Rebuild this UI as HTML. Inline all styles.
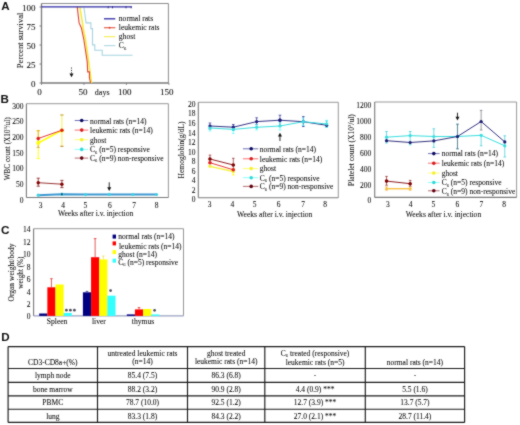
<!DOCTYPE html><html><head><meta charset="utf-8"><style>html,body{margin:0;padding:0;background:#fff;width:520px;height:425px;overflow:hidden}svg{display:block}</style></head><body>
<svg width="520" height="425" viewBox="0 0 520 425">
<defs><filter id="soft" x="0" y="0" width="520" height="425" filterUnits="userSpaceOnUse" color-interpolation-filters="sRGB"><feConvolveMatrix order="3" kernelMatrix="1 2 1 2 16 2 1 2 1" divisor="28" edgeMode="duplicate"/></filter></defs>
<g filter="url(#soft)">
<rect width="520" height="425" fill="#fff"/>
<text x="1.3" y="9.7" font-size="11.6" text-anchor="start" fill="#111" font-family="Liberation Sans" font-weight="bold"  >A</text>
<line x1="41.5" y1="3.5" x2="168.4" y2="3.5" stroke="#8c8c8c" stroke-width="1" />
<line x1="168.4" y1="3.5" x2="168.4" y2="83" stroke="#8c8c8c" stroke-width="1" />
<line x1="41.5" y1="3.5" x2="41.5" y2="83" stroke="#7a7a7a" stroke-width="1.3" />
<line x1="41.5" y1="83" x2="168.4" y2="83" stroke="#7a7a7a" stroke-width="1.5" />
<line x1="39.5" y1="7" x2="41.5" y2="7" stroke="#7a7a7a" stroke-width="1" />
<text x="35.6" y="11.2" font-size="9" text-anchor="end" fill="#0a0a0a" font-family="Liberation Serif" font-weight="normal" stroke="#0a0a0a" stroke-width="0.06" >100</text>
<line x1="39.5" y1="26" x2="41.5" y2="26" stroke="#7a7a7a" stroke-width="1" />
<text x="35.6" y="30.2" font-size="9" text-anchor="end" fill="#0a0a0a" font-family="Liberation Serif" font-weight="normal" stroke="#0a0a0a" stroke-width="0.06" >75</text>
<line x1="39.5" y1="45" x2="41.5" y2="45" stroke="#7a7a7a" stroke-width="1" />
<text x="35.6" y="49.2" font-size="9" text-anchor="end" fill="#0a0a0a" font-family="Liberation Serif" font-weight="normal" stroke="#0a0a0a" stroke-width="0.06" >50</text>
<line x1="39.5" y1="64" x2="41.5" y2="64" stroke="#7a7a7a" stroke-width="1" />
<text x="35.6" y="68.2" font-size="9" text-anchor="end" fill="#0a0a0a" font-family="Liberation Serif" font-weight="normal" stroke="#0a0a0a" stroke-width="0.06" >25</text>
<line x1="39.5" y1="83" x2="41.5" y2="83" stroke="#7a7a7a" stroke-width="1" />
<text x="35.6" y="87.2" font-size="9" text-anchor="end" fill="#0a0a0a" font-family="Liberation Serif" font-weight="normal" stroke="#0a0a0a" stroke-width="0.06" >0</text>
<line x1="41.5" y1="83" x2="41.5" y2="84.8" stroke="#7a7a7a" stroke-width="1" />
<line x1="83.94999999999999" y1="83" x2="83.94999999999999" y2="84.8" stroke="#7a7a7a" stroke-width="1" />
<line x1="126.39999999999999" y1="83" x2="126.39999999999999" y2="84.8" stroke="#7a7a7a" stroke-width="1" />
<line x1="168.85" y1="83" x2="168.85" y2="84.8" stroke="#7a7a7a" stroke-width="1" />
<text x="39.6" y="95.1" font-size="9" text-anchor="middle" fill="#0a0a0a" font-family="Liberation Serif" font-weight="normal" stroke="#0a0a0a" stroke-width="0.06" >0</text>
<text x="82.9" y="95.1" font-size="9" text-anchor="middle" fill="#0a0a0a" font-family="Liberation Serif" font-weight="normal" stroke="#0a0a0a" stroke-width="0.06" >50</text>
<text x="124.8" y="95.1" font-size="9" text-anchor="middle" fill="#0a0a0a" font-family="Liberation Serif" font-weight="normal" stroke="#0a0a0a" stroke-width="0.06" >100</text>
<text x="166.8" y="95.1" font-size="9" text-anchor="middle" fill="#0a0a0a" font-family="Liberation Serif" font-weight="normal" stroke="#0a0a0a" stroke-width="0.06" >150</text>
<text x="102.2" y="95.1" font-size="8.0" text-anchor="middle" fill="#0a0a0a" font-family="Liberation Serif" font-weight="normal" stroke="#0a0a0a" stroke-width="0.06" >days</text>
<text x="0" y="0" font-size="8.6" text-anchor="middle" fill="#0a0a0a" font-family="Liberation Serif" font-weight="normal" stroke="#0a0a0a" stroke-width="0.06" transform="translate(22.6,40.4) rotate(-90)">Percent survival</text>
<polyline points="83.8,7.5 84.3,10 86.1,22.9 90.9,22.9 90.9,28.6 92.5,28.6 92.5,44.9 94.8,44.9 94.8,50.3 102.2,50.3 102.2,55.3 132.6,55.3" fill="none" stroke="#a6d4e0" stroke-width="1.1" />
<polyline points="79.8,7 82.0,20 83.5,30 85.6,40 88.5,60 90.5,75 91.6,83" fill="none" stroke="#f6ea3a" stroke-width="1.5" />
<polyline points="77.2,6.8 79.1,22.9 81.4,28 83.9,40 87.2,61.6 87.7,71.9 89.4,71.9 89.4,77.8 90.6,83" fill="none" stroke="#e0402a" stroke-width="1.1" />
<line x1="41.5" y1="6.8" x2="131.7" y2="6.8" stroke="#2c28a4" stroke-width="1.3" />
<line x1="108.2" y1="6.2" x2="108.2" y2="8.3" stroke="#2a2080" stroke-width="0.9" />
<line x1="112.5" y1="6.2" x2="112.5" y2="8.3" stroke="#2a2080" stroke-width="0.9" />
<line x1="126" y1="6.2" x2="126" y2="8.3" stroke="#2a2080" stroke-width="0.9" />
<line x1="131.2" y1="6.2" x2="131.2" y2="8.3" stroke="#2a2080" stroke-width="0.9" />
<line x1="71.5" y1="67.5" x2="71.5" y2="74" stroke="#222" stroke-width="0.9" stroke-dasharray="1.2,1.2"/>
<path d="M69.5,73.5 L73.5,73.5 L71.5,77.2 Z" fill="#111"/>
<line x1="104" y1="18.8" x2="115.3" y2="18.8" stroke="#2c28a4" stroke-width="1.3" />
<text x="118.8" y="20.6" font-size="7.6" text-anchor="start" fill="#0a0a0a" font-family="Liberation Serif" font-weight="normal" stroke="#0a0a0a" stroke-width="0.06" >normal rats</text>
<line x1="104" y1="27.75" x2="115.3" y2="27.75" stroke="#e0402a" stroke-width="1" />
<circle cx="109.6" cy="27.75" r="0.9" fill="#e0402a"/>
<text x="118.8" y="29.75" font-size="7.6" text-anchor="start" fill="#0a0a0a" font-family="Liberation Serif" font-weight="normal" stroke="#0a0a0a" stroke-width="0.06" >leukemic rats</text>
<line x1="104" y1="36.7" x2="115.3" y2="36.7" stroke="#f6ea3a" stroke-width="1" />
<text x="118.8" y="38.900000000000006" font-size="7.6" text-anchor="start" fill="#0a0a0a" font-family="Liberation Serif" font-weight="normal" stroke="#0a0a0a" stroke-width="0.06" >ghost</text>
<line x1="104" y1="45.65" x2="115.3" y2="45.65" stroke="#a6d4e0" stroke-width="1" />
<text x="118.8" y="48.050000000000004" font-size="7.6" text-anchor="start" fill="#0a0a0a" font-family="Liberation Serif" font-weight="normal" stroke="#0a0a0a" stroke-width="0.06" >C<tspan font-size="4.6" dy="1.6">6</tspan></text>
<text x="0.6" y="102.5" font-size="11.6" text-anchor="start" fill="#111" font-family="Liberation Sans" font-weight="bold"  >B</text>
<line x1="26.4" y1="103.7" x2="168.4" y2="103.7" stroke="#8c8c8c" stroke-width="0.9" />
<line x1="168.4" y1="103.7" x2="168.4" y2="197.5" stroke="#8c8c8c" stroke-width="0.9" />
<line x1="26.4" y1="103.7" x2="26.4" y2="197.5" stroke="#7a7a7a" stroke-width="1.1" />
<line x1="26.4" y1="197.5" x2="168.4" y2="197.5" stroke="#7a7a7a" stroke-width="1.1" />
<text x="23.4" y="108.7" font-size="7.5" text-anchor="end" fill="#0a0a0a" font-family="Liberation Serif" font-weight="normal" stroke="#0a0a0a" stroke-width="0.06" >300</text>
<text x="23.4" y="124.33333333333333" font-size="7.5" text-anchor="end" fill="#0a0a0a" font-family="Liberation Serif" font-weight="normal" stroke="#0a0a0a" stroke-width="0.06" >250</text>
<text x="23.4" y="139.96666666666667" font-size="7.5" text-anchor="end" fill="#0a0a0a" font-family="Liberation Serif" font-weight="normal" stroke="#0a0a0a" stroke-width="0.06" >200</text>
<text x="23.4" y="155.6" font-size="7.5" text-anchor="end" fill="#0a0a0a" font-family="Liberation Serif" font-weight="normal" stroke="#0a0a0a" stroke-width="0.06" >150</text>
<text x="23.4" y="171.23333333333335" font-size="7.5" text-anchor="end" fill="#0a0a0a" font-family="Liberation Serif" font-weight="normal" stroke="#0a0a0a" stroke-width="0.06" >100</text>
<text x="23.4" y="186.86666666666667" font-size="7.5" text-anchor="end" fill="#0a0a0a" font-family="Liberation Serif" font-weight="normal" stroke="#0a0a0a" stroke-width="0.06" >50</text>
<text x="23.4" y="202.5" font-size="7.5" text-anchor="end" fill="#0a0a0a" font-family="Liberation Serif" font-weight="normal" stroke="#0a0a0a" stroke-width="0.06" >0</text>
<text x="40.5" y="208.4" font-size="7.5" text-anchor="middle" fill="#0a0a0a" font-family="Liberation Serif" font-weight="normal" stroke="#0a0a0a" stroke-width="0.06" >3</text>
<text x="63" y="208.4" font-size="7.5" text-anchor="middle" fill="#0a0a0a" font-family="Liberation Serif" font-weight="normal" stroke="#0a0a0a" stroke-width="0.06" >4</text>
<text x="85.3" y="208.4" font-size="7.5" text-anchor="middle" fill="#0a0a0a" font-family="Liberation Serif" font-weight="normal" stroke="#0a0a0a" stroke-width="0.06" >5</text>
<text x="109.8" y="208.4" font-size="7.5" text-anchor="middle" fill="#0a0a0a" font-family="Liberation Serif" font-weight="normal" stroke="#0a0a0a" stroke-width="0.06" >6</text>
<text x="134" y="208.4" font-size="7.5" text-anchor="middle" fill="#0a0a0a" font-family="Liberation Serif" font-weight="normal" stroke="#0a0a0a" stroke-width="0.06" >7</text>
<text x="156.6" y="208.4" font-size="7.5" text-anchor="middle" fill="#0a0a0a" font-family="Liberation Serif" font-weight="normal" stroke="#0a0a0a" stroke-width="0.06" >8</text>
<text x="95.6" y="216.2" font-size="7.6" text-anchor="middle" fill="#0a0a0a" font-family="Liberation Serif" font-weight="normal" stroke="#0a0a0a" stroke-width="0.06" >Weeks after i.v. injection</text>
<text x="0" y="0" font-size="7.2" text-anchor="middle" fill="#0a0a0a" font-family="Liberation Serif" font-weight="normal" stroke="#0a0a0a" stroke-width="0.06" transform="translate(9.6,148.8) rotate(-90)">WBC count (X10<tspan font-size="4.5" dy="-2.5">3</tspan><tspan dy="2.5">/ul)</tspan></text>
<line x1="38.233333333333334" y1="130.7" x2="38.233333333333334" y2="158.6" stroke="#ffff00" stroke-width="0.9" />
<line x1="36.63333333333333" y1="130.7" x2="39.833333333333336" y2="130.7" stroke="#ffff00" stroke-width="0.9" />
<line x1="36.63333333333333" y1="158.6" x2="39.833333333333336" y2="158.6" stroke="#ffff00" stroke-width="0.9" />
<line x1="61.9" y1="115" x2="61.9" y2="146.3" stroke="#f4ee40" stroke-width="0.9" />
<line x1="60.3" y1="115" x2="63.5" y2="115" stroke="#f4ee40" stroke-width="0.9" />
<line x1="60.3" y1="146.3" x2="63.5" y2="146.3" stroke="#f4ee40" stroke-width="0.9" />
<line x1="60.4" y1="115" x2="63.4" y2="115" stroke="#b08050" stroke-width="0.8" />
<line x1="60.4" y1="146.3" x2="63.4" y2="146.3" stroke="#b06040" stroke-width="0.8" />
<line x1="38.233333333333334" y1="130.7" x2="38.233333333333334" y2="147.4" stroke="#d08020" stroke-width="0.6" />
<line x1="36.63333333333333" y1="130.7" x2="39.833333333333336" y2="130.7" stroke="#d08020" stroke-width="0.6" />
<line x1="36.63333333333333" y1="147.4" x2="39.833333333333336" y2="147.4" stroke="#d08020" stroke-width="0.6" />
<polyline points="38.233333333333334,143 61.9,130.4" fill="none" stroke="#ffff00" stroke-width="1.6" />
<circle cx="38.233333333333334" cy="143" r="2.0" fill="#ffff00"/>
<circle cx="61.9" cy="130.4" r="2.0" fill="#ffff00"/>
<polyline points="38.233333333333334,138.5 61.9,130.2" fill="none" stroke="#e02020" stroke-width="0.9" />
<circle cx="38.233333333333334" cy="138.5" r="1.8" fill="#e02020"/>
<circle cx="61.9" cy="130.2" r="1.8" fill="#e02020"/>
<line x1="38.233333333333334" y1="178.2" x2="38.233333333333334" y2="186.2" stroke="#800000" stroke-width="0.7" />
<line x1="36.63333333333333" y1="178.2" x2="39.833333333333336" y2="178.2" stroke="#800000" stroke-width="0.7" />
<line x1="36.63333333333333" y1="186.2" x2="39.833333333333336" y2="186.2" stroke="#800000" stroke-width="0.7" />
<line x1="61.9" y1="180.4" x2="61.9" y2="187.6" stroke="#800000" stroke-width="0.7" />
<line x1="60.3" y1="180.4" x2="63.5" y2="180.4" stroke="#800000" stroke-width="0.7" />
<line x1="60.3" y1="187.6" x2="63.5" y2="187.6" stroke="#800000" stroke-width="0.7" />
<polyline points="38.233333333333334,182.7 61.9,184.2" fill="none" stroke="#800000" stroke-width="0.8" />
<circle cx="38.233333333333334" cy="182.7" r="1.7" fill="#800000"/>
<circle cx="61.9" cy="184.2" r="1.7" fill="#800000"/>
<polyline points="38.233333333333334,195.2 61.9,194.2 85.56666666666666,194.6 109.23333333333335,194.4 132.9,194.5 156.5666666666667,194.5" fill="none" stroke="#3a98d0" stroke-width="2.0" />
<circle cx="38.233333333333334" cy="195.2" r="1.6" fill="#3ecfe0"/>
<circle cx="61.9" cy="194.2" r="1.6" fill="#3ecfe0"/>
<circle cx="85.56666666666666" cy="194.6" r="1.6" fill="#3ecfe0"/>
<circle cx="109.23333333333335" cy="194.4" r="1.6" fill="#3ecfe0"/>
<circle cx="132.9" cy="194.5" r="1.6" fill="#3ecfe0"/>
<circle cx="156.5666666666667" cy="194.5" r="1.6" fill="#3ecfe0"/>
<circle cx="61.9" cy="194.2" r="1.0" fill="#103a70"/>
<line x1="109.23333333333335" y1="182.3" x2="109.23333333333335" y2="188" stroke="#111" stroke-width="0.9" />
<path d="M107.23333333333335,187.3 L111.23333333333335,187.3 L109.23333333333335,191 Z" fill="#111"/>
<line x1="74.7" y1="120.5" x2="88.2" y2="120.5" stroke="#4c4ca6" stroke-width="0.8" />
<circle cx="81.7" cy="120.5" r="1.8" fill="#0a0a60"/>
<text x="90.1" y="123.5" font-size="7.5" text-anchor="start" fill="#0a0a0a" font-family="Liberation Serif" font-weight="normal" stroke="#0a0a0a" stroke-width="0.06" >normal rats (n=14)</text>
<line x1="74.7" y1="130.1" x2="88.2" y2="130.1" stroke="#ff4c4c" stroke-width="0.8" />
<circle cx="81.7" cy="130.1" r="1.8" fill="#d81c1c"/>
<text x="90.1" y="133" font-size="7.5" text-anchor="start" fill="#0a0a0a" font-family="Liberation Serif" font-weight="normal" stroke="#0a0a0a" stroke-width="0.06" >leukemic rats (n=14)</text>
<line x1="74.7" y1="139.7" x2="88.2" y2="139.7" stroke="#ffff4c" stroke-width="0.8" />
<circle cx="81.7" cy="139.7" r="1.8" fill="#f4f030"/>
<text x="90.1" y="142.5" font-size="7.5" text-anchor="start" fill="#0a0a0a" font-family="Liberation Serif" font-weight="normal" stroke="#0a0a0a" stroke-width="0.06" >ghost</text>
<line x1="74.7" y1="149.4" x2="88.2" y2="149.4" stroke="#70ffff" stroke-width="0.8" />
<circle cx="81.7" cy="149.4" r="1.8" fill="#30d8d8"/>
<text x="90.1" y="152.4" font-size="7.5" text-anchor="start" fill="#0a0a0a" font-family="Liberation Serif" font-weight="normal" stroke="#0a0a0a" stroke-width="0.06" >C<tspan font-size="4.5" dy="1.5">6</tspan><tspan dy="-1.5"> (n=5) responsive</tspan></text>
<line x1="74.7" y1="158.1" x2="88.2" y2="158.1" stroke="#a64c4c" stroke-width="0.8" />
<circle cx="81.7" cy="158.1" r="1.8" fill="#600010"/>
<text x="90.1" y="160.9" font-size="7.5" text-anchor="start" fill="#0a0a0a" font-family="Liberation Serif" font-weight="normal" stroke="#0a0a0a" stroke-width="0.06" >C<tspan font-size="4.5" dy="1.5">6</tspan><tspan dy="-1.5"> (n=9) non-responsive</tspan></text>
<line x1="198.3" y1="102.3" x2="338.3" y2="102.3" stroke="#8c8c8c" stroke-width="0.9" />
<line x1="338.3" y1="102.3" x2="338.3" y2="197.7" stroke="#8c8c8c" stroke-width="0.9" />
<line x1="198.3" y1="102.3" x2="198.3" y2="197.7" stroke="#7a7a7a" stroke-width="1.1" />
<line x1="198.3" y1="197.7" x2="338.3" y2="197.7" stroke="#7a7a7a" stroke-width="1.1" />
<text x="195.4" y="202.29999999999998" font-size="7.5" text-anchor="end" fill="#0a0a0a" font-family="Liberation Serif" font-weight="normal" stroke="#0a0a0a" stroke-width="0.06" >0</text>
<text x="195.4" y="192.76" font-size="7.5" text-anchor="end" fill="#0a0a0a" font-family="Liberation Serif" font-weight="normal" stroke="#0a0a0a" stroke-width="0.06" >2</text>
<text x="195.4" y="183.22" font-size="7.5" text-anchor="end" fill="#0a0a0a" font-family="Liberation Serif" font-weight="normal" stroke="#0a0a0a" stroke-width="0.06" >4</text>
<text x="195.4" y="173.67999999999998" font-size="7.5" text-anchor="end" fill="#0a0a0a" font-family="Liberation Serif" font-weight="normal" stroke="#0a0a0a" stroke-width="0.06" >6</text>
<text x="195.4" y="164.14" font-size="7.5" text-anchor="end" fill="#0a0a0a" font-family="Liberation Serif" font-weight="normal" stroke="#0a0a0a" stroke-width="0.06" >8</text>
<text x="195.4" y="154.6" font-size="7.5" text-anchor="end" fill="#0a0a0a" font-family="Liberation Serif" font-weight="normal" stroke="#0a0a0a" stroke-width="0.06" >10</text>
<text x="195.4" y="145.05999999999997" font-size="7.5" text-anchor="end" fill="#0a0a0a" font-family="Liberation Serif" font-weight="normal" stroke="#0a0a0a" stroke-width="0.06" >12</text>
<text x="195.4" y="135.51999999999998" font-size="7.5" text-anchor="end" fill="#0a0a0a" font-family="Liberation Serif" font-weight="normal" stroke="#0a0a0a" stroke-width="0.06" >14</text>
<text x="195.4" y="125.97999999999999" font-size="7.5" text-anchor="end" fill="#0a0a0a" font-family="Liberation Serif" font-weight="normal" stroke="#0a0a0a" stroke-width="0.06" >16</text>
<text x="195.4" y="116.44" font-size="7.5" text-anchor="end" fill="#0a0a0a" font-family="Liberation Serif" font-weight="normal" stroke="#0a0a0a" stroke-width="0.06" >18</text>
<text x="195.4" y="106.89999999999999" font-size="7.5" text-anchor="end" fill="#0a0a0a" font-family="Liberation Serif" font-weight="normal" stroke="#0a0a0a" stroke-width="0.06" >20</text>
<text x="209.7" y="206.8" font-size="7.5" text-anchor="middle" fill="#0a0a0a" font-family="Liberation Serif" font-weight="normal" stroke="#0a0a0a" stroke-width="0.06" >3</text>
<text x="232.3" y="206.8" font-size="7.5" text-anchor="middle" fill="#0a0a0a" font-family="Liberation Serif" font-weight="normal" stroke="#0a0a0a" stroke-width="0.06" >4</text>
<text x="254.6" y="206.8" font-size="7.5" text-anchor="middle" fill="#0a0a0a" font-family="Liberation Serif" font-weight="normal" stroke="#0a0a0a" stroke-width="0.06" >5</text>
<text x="278.7" y="206.8" font-size="7.5" text-anchor="middle" fill="#0a0a0a" font-family="Liberation Serif" font-weight="normal" stroke="#0a0a0a" stroke-width="0.06" >6</text>
<text x="303" y="206.8" font-size="7.5" text-anchor="middle" fill="#0a0a0a" font-family="Liberation Serif" font-weight="normal" stroke="#0a0a0a" stroke-width="0.06" >7</text>
<text x="325.2" y="206.8" font-size="7.5" text-anchor="middle" fill="#0a0a0a" font-family="Liberation Serif" font-weight="normal" stroke="#0a0a0a" stroke-width="0.06" >8</text>
<text x="274.7" y="217.4" font-size="7.6" text-anchor="middle" fill="#0a0a0a" font-family="Liberation Serif" font-weight="normal" stroke="#0a0a0a" stroke-width="0.06" >Weeks after i.v. injection</text>
<text x="0" y="0" font-size="7.55" text-anchor="middle" fill="#0a0a0a" font-family="Liberation Serif" font-weight="normal" stroke="#0a0a0a" stroke-width="0.06" transform="translate(184.4,150.0) rotate(-90)">Hemoglobin(g/dL)</text>
<line x1="209.96666666666667" y1="123" x2="209.96666666666667" y2="129" stroke="#000080" stroke-width="0.6" />
<line x1="208.66666666666666" y1="123" x2="211.26666666666668" y2="123" stroke="#000080" stroke-width="0.6" />
<line x1="208.66666666666666" y1="129" x2="211.26666666666668" y2="129" stroke="#000080" stroke-width="0.6" />
<line x1="233.3" y1="124.5" x2="233.3" y2="130" stroke="#000080" stroke-width="0.6" />
<line x1="232.0" y1="124.5" x2="234.60000000000002" y2="124.5" stroke="#000080" stroke-width="0.6" />
<line x1="232.0" y1="130" x2="234.60000000000002" y2="130" stroke="#000080" stroke-width="0.6" />
<line x1="256.6333333333333" y1="117.8" x2="256.6333333333333" y2="124.7" stroke="#000080" stroke-width="0.6" />
<line x1="255.33333333333331" y1="117.8" x2="257.93333333333334" y2="117.8" stroke="#000080" stroke-width="0.6" />
<line x1="255.33333333333331" y1="124.7" x2="257.93333333333334" y2="124.7" stroke="#000080" stroke-width="0.6" />
<line x1="279.9666666666667" y1="115.2" x2="279.9666666666667" y2="126" stroke="#000080" stroke-width="0.6" />
<line x1="278.6666666666667" y1="115.2" x2="281.2666666666667" y2="115.2" stroke="#000080" stroke-width="0.6" />
<line x1="278.6666666666667" y1="126" x2="281.2666666666667" y2="126" stroke="#000080" stroke-width="0.6" />
<line x1="303.3" y1="116.6" x2="303.3" y2="126.5" stroke="#000080" stroke-width="0.6" />
<line x1="302.0" y1="116.6" x2="304.6" y2="116.6" stroke="#000080" stroke-width="0.6" />
<line x1="302.0" y1="126.5" x2="304.6" y2="126.5" stroke="#000080" stroke-width="0.6" />
<line x1="326.6333333333333" y1="121" x2="326.6333333333333" y2="127" stroke="#20a0c0" stroke-width="0.6" />
<line x1="325.3333333333333" y1="121" x2="327.93333333333334" y2="121" stroke="#20a0c0" stroke-width="0.6" />
<line x1="325.3333333333333" y1="127" x2="327.93333333333334" y2="127" stroke="#20a0c0" stroke-width="0.6" />
<line x1="209.96666666666667" y1="125.5" x2="209.96666666666667" y2="131" stroke="#33ffff" stroke-width="0.6" />
<line x1="208.66666666666666" y1="125.5" x2="211.26666666666668" y2="125.5" stroke="#33ffff" stroke-width="0.6" />
<line x1="208.66666666666666" y1="131" x2="211.26666666666668" y2="131" stroke="#33ffff" stroke-width="0.6" />
<line x1="233.3" y1="126.5" x2="233.3" y2="133.5" stroke="#33ffff" stroke-width="0.6" />
<line x1="232.0" y1="126.5" x2="234.60000000000002" y2="126.5" stroke="#33ffff" stroke-width="0.6" />
<line x1="232.0" y1="133.5" x2="234.60000000000002" y2="133.5" stroke="#33ffff" stroke-width="0.6" />
<line x1="256.6333333333333" y1="124.5" x2="256.6333333333333" y2="130" stroke="#33ffff" stroke-width="0.6" />
<line x1="255.33333333333331" y1="124.5" x2="257.93333333333334" y2="124.5" stroke="#33ffff" stroke-width="0.6" />
<line x1="255.33333333333331" y1="130" x2="257.93333333333334" y2="130" stroke="#33ffff" stroke-width="0.6" />
<line x1="279.9666666666667" y1="122" x2="279.9666666666667" y2="130" stroke="#33ffff" stroke-width="0.6" />
<line x1="278.6666666666667" y1="122" x2="281.2666666666667" y2="122" stroke="#33ffff" stroke-width="0.6" />
<line x1="278.6666666666667" y1="130" x2="281.2666666666667" y2="130" stroke="#33ffff" stroke-width="0.6" />
<line x1="303.3" y1="118" x2="303.3" y2="125.5" stroke="#33ffff" stroke-width="0.6" />
<line x1="302.0" y1="118" x2="304.6" y2="118" stroke="#33ffff" stroke-width="0.6" />
<line x1="302.0" y1="125.5" x2="304.6" y2="125.5" stroke="#33ffff" stroke-width="0.6" />
<line x1="326.6333333333333" y1="120.3" x2="326.6333333333333" y2="127.5" stroke="#33ffff" stroke-width="0.6" />
<line x1="325.3333333333333" y1="120.3" x2="327.93333333333334" y2="120.3" stroke="#33ffff" stroke-width="0.6" />
<line x1="325.3333333333333" y1="127.5" x2="327.93333333333334" y2="127.5" stroke="#33ffff" stroke-width="0.6" />
<polyline points="209.96666666666667,126 233.3,127.2 256.6333333333333,121.6 279.9666666666667,120.2 303.3,121.7 326.6333333333333,125.3" fill="none" stroke="#1a1a78" stroke-width="0.9" />
<circle cx="209.96666666666667" cy="126" r="1.6" fill="#1a1a78"/>
<circle cx="233.3" cy="127.2" r="1.6" fill="#1a1a78"/>
<circle cx="256.6333333333333" cy="121.6" r="1.6" fill="#1a1a78"/>
<circle cx="279.9666666666667" cy="120.2" r="1.6" fill="#1a1a78"/>
<circle cx="303.3" cy="121.7" r="1.6" fill="#1a1a78"/>
<circle cx="326.6333333333333" cy="125.3" r="1.6" fill="#1a1a78"/>
<polyline points="209.96666666666667,128 233.3,129.4 256.6333333333333,127.3 279.9666666666667,126 303.3,121.7 326.6333333333333,124" fill="none" stroke="#38dede" stroke-width="1.0" />
<circle cx="209.96666666666667" cy="128" r="1.6" fill="#38dede"/>
<circle cx="233.3" cy="129.4" r="1.6" fill="#38dede"/>
<circle cx="256.6333333333333" cy="127.3" r="1.6" fill="#38dede"/>
<circle cx="279.9666666666667" cy="126" r="1.6" fill="#38dede"/>
<circle cx="303.3" cy="121.7" r="1.6" fill="#38dede"/>
<circle cx="326.6333333333333" cy="124" r="1.6" fill="#38dede"/>
<circle cx="279.9666666666667" cy="120.2" r="1.6" fill="#1a1a78"/>
<line x1="209.96666666666667" y1="155.1" x2="209.96666666666667" y2="163" stroke="#800000" stroke-width="0.6" />
<line x1="208.66666666666666" y1="155.1" x2="211.26666666666668" y2="155.1" stroke="#800000" stroke-width="0.6" />
<line x1="208.66666666666666" y1="163" x2="211.26666666666668" y2="163" stroke="#800000" stroke-width="0.6" />
<line x1="233.3" y1="158.3" x2="233.3" y2="169.6" stroke="#800000" stroke-width="0.6" />
<line x1="232.0" y1="158.3" x2="234.60000000000002" y2="158.3" stroke="#800000" stroke-width="0.6" />
<line x1="232.0" y1="169.6" x2="234.60000000000002" y2="169.6" stroke="#800000" stroke-width="0.6" />
<line x1="233.3" y1="168.5" x2="233.3" y2="175" stroke="#ffff00" stroke-width="0.8" />
<line x1="232.0" y1="168.5" x2="234.60000000000002" y2="168.5" stroke="#ffff00" stroke-width="0.8" />
<line x1="232.0" y1="175" x2="234.60000000000002" y2="175" stroke="#ffff00" stroke-width="0.8" />
<polyline points="209.96666666666667,166.3 233.3,171.5" fill="none" stroke="#f6f040" stroke-width="1.3" />
<circle cx="209.96666666666667" cy="166.3" r="1.7" fill="#f6f040"/>
<circle cx="233.3" cy="171.5" r="1.7" fill="#f6f040"/>
<polyline points="209.96666666666667,162.7 233.3,169.8" fill="none" stroke="#e02020" stroke-width="0.9" />
<circle cx="209.96666666666667" cy="162.7" r="1.8" fill="#e02020"/>
<circle cx="233.3" cy="169.8" r="1.8" fill="#e02020"/>
<polyline points="209.96666666666667,159 233.3,165" fill="none" stroke="#800000" stroke-width="0.9" />
<circle cx="209.96666666666667" cy="159" r="1.8" fill="#800000"/>
<circle cx="233.3" cy="165" r="1.8" fill="#800000"/>
<line x1="279.9666666666667" y1="136" x2="279.9666666666667" y2="141" stroke="#111" stroke-width="0.9" />
<path d="M277.9666666666667,136.5 L281.9666666666667,136.5 L279.9666666666667,132.8 Z" fill="#111"/>
<line x1="242.9" y1="148.8" x2="258.3" y2="148.8" stroke="#4c4ca6" stroke-width="0.8" />
<circle cx="251.2" cy="148.8" r="1.8" fill="#0a0a60"/>
<text x="259.8" y="151.8" font-size="7.5" text-anchor="start" fill="#0a0a0a" font-family="Liberation Serif" font-weight="normal" stroke="#0a0a0a" stroke-width="0.06" >normal rats (n=14)</text>
<line x1="242.9" y1="158.8" x2="258.3" y2="158.8" stroke="#ff4c4c" stroke-width="0.8" />
<circle cx="251.2" cy="158.8" r="1.8" fill="#d81c1c"/>
<text x="259.8" y="161.6" font-size="7.5" text-anchor="start" fill="#0a0a0a" font-family="Liberation Serif" font-weight="normal" stroke="#0a0a0a" stroke-width="0.06" >leukemic rats (n=14)</text>
<line x1="242.9" y1="168.6" x2="258.3" y2="168.6" stroke="#ffff4c" stroke-width="0.8" />
<circle cx="251.2" cy="168.6" r="1.8" fill="#f4f030"/>
<text x="259.8" y="171.4" font-size="7.5" text-anchor="start" fill="#0a0a0a" font-family="Liberation Serif" font-weight="normal" stroke="#0a0a0a" stroke-width="0.06" >ghost</text>
<line x1="242.9" y1="177.7" x2="258.3" y2="177.7" stroke="#70ffff" stroke-width="0.8" />
<circle cx="251.2" cy="177.7" r="1.8" fill="#30d8d8"/>
<text x="259.8" y="180.6" font-size="7.5" text-anchor="start" fill="#0a0a0a" font-family="Liberation Serif" font-weight="normal" stroke="#0a0a0a" stroke-width="0.06" >C<tspan font-size="4.5" dy="1.5">6</tspan><tspan dy="-1.5"> (n=5) responsive</tspan></text>
<line x1="242.9" y1="186.4" x2="258.3" y2="186.4" stroke="#a64c4c" stroke-width="0.8" />
<circle cx="251.2" cy="186.4" r="1.8" fill="#600010"/>
<text x="259.8" y="189.2" font-size="7.5" text-anchor="start" fill="#0a0a0a" font-family="Liberation Serif" font-weight="normal" stroke="#0a0a0a" stroke-width="0.06" >C<tspan font-size="4.5" dy="1.5">6</tspan><tspan dy="-1.5"> (n=9) non-responsive</tspan></text>
<line x1="374.7" y1="102" x2="516.6" y2="102" stroke="#8c8c8c" stroke-width="0.9" />
<line x1="516.6" y1="102" x2="516.6" y2="197.4" stroke="#8c8c8c" stroke-width="0.9" />
<line x1="374.7" y1="102" x2="374.7" y2="197.4" stroke="#7a7a7a" stroke-width="1.1" />
<line x1="374.7" y1="197.4" x2="516.6" y2="197.4" stroke="#7a7a7a" stroke-width="1.1" />
<text x="371.2" y="203.4" font-size="7.5" text-anchor="end" fill="#0a0a0a" font-family="Liberation Serif" font-weight="normal" stroke="#0a0a0a" stroke-width="0.06" >0</text>
<text x="371.2" y="187.5" font-size="7.5" text-anchor="end" fill="#0a0a0a" font-family="Liberation Serif" font-weight="normal" stroke="#0a0a0a" stroke-width="0.06" >200</text>
<text x="371.2" y="171.6" font-size="7.5" text-anchor="end" fill="#0a0a0a" font-family="Liberation Serif" font-weight="normal" stroke="#0a0a0a" stroke-width="0.06" >400</text>
<text x="371.2" y="155.7" font-size="7.5" text-anchor="end" fill="#0a0a0a" font-family="Liberation Serif" font-weight="normal" stroke="#0a0a0a" stroke-width="0.06" >600</text>
<text x="371.2" y="139.8" font-size="7.5" text-anchor="end" fill="#0a0a0a" font-family="Liberation Serif" font-weight="normal" stroke="#0a0a0a" stroke-width="0.06" >800</text>
<text x="371.2" y="123.9" font-size="7.5" text-anchor="end" fill="#0a0a0a" font-family="Liberation Serif" font-weight="normal" stroke="#0a0a0a" stroke-width="0.06" >1000</text>
<text x="371.2" y="108.0" font-size="7.5" text-anchor="end" fill="#0a0a0a" font-family="Liberation Serif" font-weight="normal" stroke="#0a0a0a" stroke-width="0.06" >1200</text>
<text x="387.8" y="207.4" font-size="7.5" text-anchor="middle" fill="#0a0a0a" font-family="Liberation Serif" font-weight="normal" stroke="#0a0a0a" stroke-width="0.06" >3</text>
<text x="410.7" y="207.4" font-size="7.5" text-anchor="middle" fill="#0a0a0a" font-family="Liberation Serif" font-weight="normal" stroke="#0a0a0a" stroke-width="0.06" >4</text>
<text x="433.3" y="207.4" font-size="7.5" text-anchor="middle" fill="#0a0a0a" font-family="Liberation Serif" font-weight="normal" stroke="#0a0a0a" stroke-width="0.06" >5</text>
<text x="457.4" y="207.4" font-size="7.5" text-anchor="middle" fill="#0a0a0a" font-family="Liberation Serif" font-weight="normal" stroke="#0a0a0a" stroke-width="0.06" >6</text>
<text x="481.3" y="207.4" font-size="7.5" text-anchor="middle" fill="#0a0a0a" font-family="Liberation Serif" font-weight="normal" stroke="#0a0a0a" stroke-width="0.06" >7</text>
<text x="504.2" y="207.4" font-size="7.5" text-anchor="middle" fill="#0a0a0a" font-family="Liberation Serif" font-weight="normal" stroke="#0a0a0a" stroke-width="0.06" >8</text>
<text x="443.5" y="217.0" font-size="7.6" text-anchor="middle" fill="#0a0a0a" font-family="Liberation Serif" font-weight="normal" stroke="#0a0a0a" stroke-width="0.06" >Weeks after i.v. injection</text>
<text x="0" y="0" font-size="7.6" text-anchor="middle" fill="#0a0a0a" font-family="Liberation Serif" font-weight="normal" stroke="#0a0a0a" stroke-width="0.06" transform="translate(353.6,150.1) rotate(-90)">Platelet count (X10<tspan font-size="4.5" dy="-2.5">3</tspan><tspan dy="2.5">/ul)</tspan></text>
<line x1="386.525" y1="131.5" x2="386.525" y2="143" stroke="#30c8d8" stroke-width="0.7" />
<line x1="385.22499999999997" y1="131.5" x2="387.825" y2="131.5" stroke="#30c8d8" stroke-width="0.7" />
<line x1="385.22499999999997" y1="143" x2="387.825" y2="143" stroke="#30c8d8" stroke-width="0.7" />
<line x1="410.175" y1="131.5" x2="410.175" y2="144.8" stroke="#30c8d8" stroke-width="0.7" />
<line x1="408.875" y1="131.5" x2="411.475" y2="131.5" stroke="#30c8d8" stroke-width="0.7" />
<line x1="408.875" y1="144.8" x2="411.475" y2="144.8" stroke="#30c8d8" stroke-width="0.7" />
<line x1="433.825" y1="128.8" x2="433.825" y2="147.4" stroke="#30c8d8" stroke-width="0.7" />
<line x1="432.525" y1="128.8" x2="435.125" y2="128.8" stroke="#30c8d8" stroke-width="0.7" />
<line x1="432.525" y1="147.4" x2="435.125" y2="147.4" stroke="#30c8d8" stroke-width="0.7" />
<line x1="457.475" y1="124.2" x2="457.475" y2="148.8" stroke="#30c8d8" stroke-width="0.7" />
<line x1="456.175" y1="124.2" x2="458.77500000000003" y2="124.2" stroke="#30c8d8" stroke-width="0.7" />
<line x1="456.175" y1="148.8" x2="458.77500000000003" y2="148.8" stroke="#30c8d8" stroke-width="0.7" />
<line x1="481.125" y1="135.3" x2="481.125" y2="145.8" stroke="#30c8d8" stroke-width="0.7" />
<line x1="479.825" y1="135.3" x2="482.425" y2="135.3" stroke="#30c8d8" stroke-width="0.7" />
<line x1="479.825" y1="145.8" x2="482.425" y2="145.8" stroke="#30c8d8" stroke-width="0.7" />
<line x1="504.77500000000003" y1="135.8" x2="504.77500000000003" y2="157" stroke="#30c8d8" stroke-width="0.7" />
<line x1="503.475" y1="135.8" x2="506.07500000000005" y2="135.8" stroke="#30c8d8" stroke-width="0.7" />
<line x1="503.475" y1="157" x2="506.07500000000005" y2="157" stroke="#30c8d8" stroke-width="0.7" />
<line x1="457.475" y1="124.2" x2="457.475" y2="148.8" stroke="#556" stroke-width="0.6" />
<line x1="456.175" y1="124.2" x2="458.77500000000003" y2="124.2" stroke="#556" stroke-width="0.6" />
<line x1="456.175" y1="148.8" x2="458.77500000000003" y2="148.8" stroke="#556" stroke-width="0.6" />
<line x1="481.125" y1="110.4" x2="481.125" y2="130" stroke="#556" stroke-width="0.6" />
<line x1="479.825" y1="110.4" x2="482.425" y2="110.4" stroke="#556" stroke-width="0.6" />
<line x1="479.825" y1="130" x2="482.425" y2="130" stroke="#556" stroke-width="0.6" />
<polyline points="386.525,137.2 410.175,135.6 433.825,136.5 457.475,136.5 481.125,135.3 504.77500000000003,145.8" fill="none" stroke="#38dede" stroke-width="1.0" />
<circle cx="386.525" cy="137.2" r="1.6" fill="#38dede"/>
<circle cx="410.175" cy="135.6" r="1.6" fill="#38dede"/>
<circle cx="433.825" cy="136.5" r="1.6" fill="#38dede"/>
<circle cx="457.475" cy="136.5" r="1.6" fill="#38dede"/>
<circle cx="481.125" cy="135.3" r="1.6" fill="#38dede"/>
<circle cx="504.77500000000003" cy="145.8" r="1.6" fill="#38dede"/>
<polyline points="386.525,140.7 410.175,142.5 433.825,140.9 457.475,136.5 481.125,121.5 504.77500000000003,141.9" fill="none" stroke="#1a1a70" stroke-width="0.9" />
<circle cx="386.525" cy="140.7" r="1.6" fill="#1a1a70"/>
<circle cx="410.175" cy="142.5" r="1.6" fill="#1a1a70"/>
<circle cx="433.825" cy="140.9" r="1.6" fill="#1a1a70"/>
<circle cx="457.475" cy="136.5" r="1.6" fill="#1a1a70"/>
<circle cx="481.125" cy="121.5" r="1.6" fill="#1a1a70"/>
<circle cx="504.77500000000003" cy="141.9" r="1.6" fill="#1a1a70"/>
<line x1="386.525" y1="176.4" x2="386.525" y2="185.2" stroke="#800000" stroke-width="0.6" />
<line x1="385.22499999999997" y1="176.4" x2="387.825" y2="176.4" stroke="#800000" stroke-width="0.6" />
<line x1="385.22499999999997" y1="185.2" x2="387.825" y2="185.2" stroke="#800000" stroke-width="0.6" />
<line x1="410.175" y1="180.4" x2="410.175" y2="186.3" stroke="#800000" stroke-width="0.6" />
<line x1="408.875" y1="180.4" x2="411.475" y2="180.4" stroke="#800000" stroke-width="0.6" />
<line x1="408.875" y1="186.3" x2="411.475" y2="186.3" stroke="#800000" stroke-width="0.6" />
<line x1="386.525" y1="186.8" x2="386.525" y2="190.2" stroke="#f0a030" stroke-width="0.6" />
<line x1="385.22499999999997" y1="186.8" x2="387.825" y2="186.8" stroke="#f0a030" stroke-width="0.6" />
<line x1="385.22499999999997" y1="190.2" x2="387.825" y2="190.2" stroke="#f0a030" stroke-width="0.6" />
<line x1="410.175" y1="186.8" x2="410.175" y2="190.2" stroke="#f0a030" stroke-width="0.6" />
<line x1="408.875" y1="186.8" x2="411.475" y2="186.8" stroke="#f0a030" stroke-width="0.6" />
<line x1="408.875" y1="190.2" x2="411.475" y2="190.2" stroke="#f0a030" stroke-width="0.6" />
<polyline points="386.525,188.7 410.175,188.7" fill="none" stroke="#f8c040" stroke-width="1.4" />
<circle cx="386.525" cy="188.7" r="1.5" fill="#f8c040"/>
<circle cx="410.175" cy="188.7" r="1.5" fill="#f8c040"/>
<polyline points="386.525,181.1 410.175,183.7" fill="none" stroke="#800000" stroke-width="0.9" />
<circle cx="386.525" cy="181.1" r="1.8" fill="#800000"/>
<circle cx="410.175" cy="183.7" r="1.8" fill="#800000"/>
<line x1="457.475" y1="112.7" x2="457.475" y2="117.5" stroke="#111" stroke-width="0.9" />
<path d="M455.475,116.8 L459.475,116.8 L457.475,120.6 Z" fill="#111"/>
<line x1="428" y1="153.6" x2="439.6" y2="153.6" stroke="#4c4ca6" stroke-width="0.8" />
<circle cx="433.8" cy="153.6" r="1.8" fill="#0a0a60"/>
<text x="441.7" y="156.4" font-size="7.5" text-anchor="start" fill="#0a0a0a" font-family="Liberation Serif" font-weight="normal" stroke="#0a0a0a" stroke-width="0.06" >normal rats (n=14)</text>
<line x1="428" y1="163.2" x2="439.6" y2="163.2" stroke="#ff4c4c" stroke-width="0.8" />
<circle cx="433.8" cy="163.2" r="1.8" fill="#d81c1c"/>
<text x="441.7" y="166.2" font-size="7.5" text-anchor="start" fill="#0a0a0a" font-family="Liberation Serif" font-weight="normal" stroke="#0a0a0a" stroke-width="0.06" >leukemic rats (n=14)</text>
<line x1="428" y1="173.1" x2="439.6" y2="173.1" stroke="#ffff4c" stroke-width="0.8" />
<circle cx="433.8" cy="173.1" r="1.8" fill="#f4f030"/>
<text x="441.7" y="175.9" font-size="7.5" text-anchor="start" fill="#0a0a0a" font-family="Liberation Serif" font-weight="normal" stroke="#0a0a0a" stroke-width="0.06" >ghost</text>
<line x1="428" y1="182.5" x2="439.6" y2="182.5" stroke="#70ffff" stroke-width="0.8" />
<circle cx="433.8" cy="182.5" r="1.8" fill="#30d8d8"/>
<text x="441.7" y="185.1" font-size="7.5" text-anchor="start" fill="#0a0a0a" font-family="Liberation Serif" font-weight="normal" stroke="#0a0a0a" stroke-width="0.06" >C<tspan font-size="4.5" dy="1.5">6</tspan><tspan dy="-1.5"> (n=5) responsive</tspan></text>
<line x1="428" y1="190.8" x2="439.6" y2="190.8" stroke="#a64c4c" stroke-width="0.8" />
<circle cx="433.8" cy="190.8" r="1.8" fill="#600010"/>
<text x="441.7" y="194.0" font-size="7.5" text-anchor="start" fill="#0a0a0a" font-family="Liberation Serif" font-weight="normal" stroke="#0a0a0a" stroke-width="0.06" >C<tspan font-size="4.5" dy="1.5">6</tspan><tspan dy="-1.5"> (n=9) non-responsive</tspan></text>
<text x="0.9" y="233.6" font-size="11.8" text-anchor="start" fill="#111" font-family="Liberation Sans" font-weight="bold"  >C</text>
<line x1="33.6" y1="228.7" x2="183.5" y2="228.7" stroke="#8c8c8c" stroke-width="0.9" />
<line x1="183.5" y1="228.7" x2="183.5" y2="315.9" stroke="#8c8c8c" stroke-width="0.9" />
<line x1="33.6" y1="228.7" x2="33.6" y2="315.9" stroke="#7a7a7a" stroke-width="1.1" />
<line x1="33.6" y1="315.9" x2="183.5" y2="315.9" stroke="#9aa0c0" stroke-width="1.1" />
<text x="30.6" y="319.4" font-size="7.5" text-anchor="end" fill="#0a0a0a" font-family="Liberation Serif" font-weight="normal" stroke="#0a0a0a" stroke-width="0.06" >0</text>
<text x="30.6" y="306.97999999999996" font-size="7.5" text-anchor="end" fill="#0a0a0a" font-family="Liberation Serif" font-weight="normal" stroke="#0a0a0a" stroke-width="0.06" >2</text>
<text x="30.6" y="294.56" font-size="7.5" text-anchor="end" fill="#0a0a0a" font-family="Liberation Serif" font-weight="normal" stroke="#0a0a0a" stroke-width="0.06" >4</text>
<text x="30.6" y="282.14" font-size="7.5" text-anchor="end" fill="#0a0a0a" font-family="Liberation Serif" font-weight="normal" stroke="#0a0a0a" stroke-width="0.06" >6</text>
<text x="30.6" y="269.71999999999997" font-size="7.5" text-anchor="end" fill="#0a0a0a" font-family="Liberation Serif" font-weight="normal" stroke="#0a0a0a" stroke-width="0.06" >8</text>
<text x="30.6" y="257.29999999999995" font-size="7.5" text-anchor="end" fill="#0a0a0a" font-family="Liberation Serif" font-weight="normal" stroke="#0a0a0a" stroke-width="0.06" >10</text>
<text x="30.6" y="244.88" font-size="7.5" text-anchor="end" fill="#0a0a0a" font-family="Liberation Serif" font-weight="normal" stroke="#0a0a0a" stroke-width="0.06" >12</text>
<text x="30.6" y="232.45999999999998" font-size="7.5" text-anchor="end" fill="#0a0a0a" font-family="Liberation Serif" font-weight="normal" stroke="#0a0a0a" stroke-width="0.06" >14</text>
<text x="0" y="0" font-size="7.5" text-anchor="middle" fill="#0a0a0a" font-family="Liberation Serif" font-weight="normal" stroke="#0a0a0a" stroke-width="0.06" transform="translate(14.4,272.5) rotate(-90)">Organ weight/body</text>
<text x="0" y="0" font-size="7.2" text-anchor="middle" fill="#0a0a0a" font-family="Liberation Serif" font-weight="normal" stroke="#0a0a0a" stroke-width="0.06" transform="translate(23.4,272.6) rotate(-90)">weight (%)</text>
<rect x="39.2" y="313.5" width="8.15" height="2.3999999999999773" fill="#000080" stroke="none" stroke-width="0"/>
<rect x="47.35" y="287.3" width="8.15" height="28.599999999999966" fill="#ff0000" stroke="none" stroke-width="0"/>
<rect x="55.5" y="284.5" width="8.15" height="31.399999999999977" fill="#ffff00" stroke="none" stroke-width="0"/>
<rect x="63.650000000000006" y="313.0" width="8.15" height="2.8999999999999773" fill="#33ffff" stroke="none" stroke-width="0"/>
<rect x="82.9" y="292.3" width="8.15" height="23.599999999999966" fill="#000080" stroke="none" stroke-width="0"/>
<rect x="91.05000000000001" y="257.2" width="8.15" height="58.69999999999999" fill="#ff0000" stroke="none" stroke-width="0"/>
<rect x="99.2" y="259.4" width="8.15" height="56.5" fill="#ffff00" stroke="none" stroke-width="0"/>
<rect x="107.35000000000001" y="295.7" width="8.15" height="20.19999999999999" fill="#33ffff" stroke="none" stroke-width="0"/>
<rect x="126.8" y="314.4" width="8.15" height="1.5" fill="#000080" stroke="none" stroke-width="0"/>
<rect x="134.95" y="309.4" width="8.15" height="6.5" fill="#ff0000" stroke="none" stroke-width="0"/>
<rect x="143.1" y="309.0" width="8.15" height="6.899999999999977" fill="#ffff00" stroke="none" stroke-width="0"/>
<rect x="151.25" y="314.4" width="8.15" height="1.5" fill="#33ffff" stroke="none" stroke-width="0"/>
<line x1="51.425000000000004" y1="287.3" x2="51.425000000000004" y2="278.7" stroke="#e03030" stroke-width="0.8" />
<line x1="50.12500000000001" y1="278.7" x2="52.725" y2="278.7" stroke="#e03030" stroke-width="0.8" />
<line x1="95.125" y1="257.2" x2="95.125" y2="238.6" stroke="#e03030" stroke-width="0.8" />
<line x1="93.825" y1="238.6" x2="96.425" y2="238.6" stroke="#e03030" stroke-width="0.8" />
<line x1="103.275" y1="259.4" x2="103.275" y2="256" stroke="#f0e060" stroke-width="0.8" />
<line x1="101.97500000000001" y1="256" x2="104.575" y2="256" stroke="#f0e060" stroke-width="0.8" />
<line x1="85.67500000000001" y1="291.4" x2="88.275" y2="291.4" stroke="#203080" stroke-width="0.8" />
<line x1="139.025" y1="309.4" x2="139.025" y2="307.6" stroke="#e03030" stroke-width="0.8" />
<line x1="137.725" y1="307.6" x2="140.32500000000002" y2="307.6" stroke="#e03030" stroke-width="0.8" />
<circle cx="66.4" cy="310.2" r="1.35" fill="#4a4a58"/>
<circle cx="70.4" cy="310.2" r="1.35" fill="#4a4a58"/>
<circle cx="74.4" cy="310.2" r="1.35" fill="#4a4a58"/>
<circle cx="110.6" cy="290.6" r="1.35" fill="#4a4a58"/>
<circle cx="154.6" cy="310.3" r="1.35" fill="#4a4a58"/>
<text x="57.1" y="324.3" font-size="7.6" text-anchor="middle" fill="#0a0a0a" font-family="Liberation Serif" font-weight="normal" stroke="#0a0a0a" stroke-width="0.06" >Spleen</text>
<text x="98.9" y="323.6" font-size="7.6" text-anchor="middle" fill="#0a0a0a" font-family="Liberation Serif" font-weight="normal" stroke="#0a0a0a" stroke-width="0.06" >liver</text>
<text x="143.0" y="323.8" font-size="7.6" text-anchor="middle" fill="#0a0a0a" font-family="Liberation Serif" font-weight="normal" stroke="#0a0a0a" stroke-width="0.06" >thymus</text>
<rect x="112.6" y="234.6" width="3.4" height="4" fill="#000080" stroke="none" stroke-width="0"/>
<text x="118.3" y="238.6" font-size="7.5" text-anchor="start" fill="#0a0a0a" font-family="Liberation Serif" font-weight="normal" stroke="#0a0a0a" stroke-width="0.06" >normal rats (n=14)</text>
<rect x="112.6" y="241.4" width="3.4" height="4" fill="#ff0000" stroke="none" stroke-width="0"/>
<text x="119" y="249.1" font-size="7.5" text-anchor="start" fill="#0a0a0a" font-family="Liberation Serif" font-weight="normal" stroke="#0a0a0a" stroke-width="0.06" >leukemic rats (n=14)</text>
<rect x="112.6" y="250.1" width="3.4" height="4" fill="#ffff00" stroke="none" stroke-width="0"/>
<text x="118.3" y="256.6" font-size="7.5" text-anchor="start" fill="#0a0a0a" font-family="Liberation Serif" font-weight="normal" stroke="#0a0a0a" stroke-width="0.06" >ghost (n=14)</text>
<rect x="112.6" y="258.7" width="3.4" height="4" fill="#33ffff" stroke="none" stroke-width="0"/>
<text x="118.3" y="264.5" font-size="7.5" text-anchor="start" fill="#0a0a0a" font-family="Liberation Serif" font-weight="normal" stroke="#0a0a0a" stroke-width="0.06" >C<tspan font-size="4.5" dy="1.5">6</tspan><tspan dy="-1.5"> (n=5) responsive</tspan></text>
<text x="1.3" y="340.7" font-size="11.6" text-anchor="start" fill="#111" font-family="Liberation Sans" font-weight="bold"  >D</text>
<line x1="8.1" y1="346.6" x2="8.1" y2="422.4" stroke="#1a1a1a" stroke-width="1.15" />
<line x1="97.5" y1="346.6" x2="97.5" y2="422.4" stroke="#1a1a1a" stroke-width="1.15" />
<line x1="187.5" y1="346.6" x2="187.5" y2="422.4" stroke="#1a1a1a" stroke-width="1.15" />
<line x1="264.8" y1="346.6" x2="264.8" y2="422.4" stroke="#1a1a1a" stroke-width="1.15" />
<line x1="365.3" y1="346.6" x2="365.3" y2="422.4" stroke="#1a1a1a" stroke-width="1.15" />
<line x1="464.6" y1="346.6" x2="464.6" y2="422.4" stroke="#1a1a1a" stroke-width="1.15" />
<line x1="8.1" y1="346.6" x2="464.6" y2="346.6" stroke="#1a1a1a" stroke-width="1.15" />
<line x1="8.1" y1="368.5" x2="464.6" y2="368.5" stroke="#1a1a1a" stroke-width="1.15" />
<line x1="8.1" y1="382.4" x2="464.6" y2="382.4" stroke="#1a1a1a" stroke-width="1.15" />
<line x1="8.1" y1="395.8" x2="464.6" y2="395.8" stroke="#1a1a1a" stroke-width="1.15" />
<line x1="8.1" y1="409.2" x2="464.6" y2="409.2" stroke="#1a1a1a" stroke-width="1.15" />
<line x1="8.1" y1="422.4" x2="464.6" y2="422.4" stroke="#1a1a1a" stroke-width="1.15" />
<text x="52.8" y="364.6" font-size="7.5" text-anchor="middle" fill="#0a0a0a" font-family="Liberation Serif" font-weight="normal" stroke="#0a0a0a" stroke-width="0.06" >CD3-CD8a+(%)</text>
<text x="142.5" y="355.9" font-size="7.5" text-anchor="middle" fill="#0a0a0a" font-family="Liberation Serif" font-weight="normal" stroke="#0a0a0a" stroke-width="0.06" >untreated leukemic rats</text>
<text x="142.5" y="364.4" font-size="7.5" text-anchor="middle" fill="#0a0a0a" font-family="Liberation Serif" font-weight="normal" stroke="#0a0a0a" stroke-width="0.06" >(n=14)</text>
<text x="226.15" y="355.9" font-size="7.5" text-anchor="middle" fill="#0a0a0a" font-family="Liberation Serif" font-weight="normal" stroke="#0a0a0a" stroke-width="0.06" >ghost treated</text>
<text x="226.15" y="364.4" font-size="7.5" text-anchor="middle" fill="#0a0a0a" font-family="Liberation Serif" font-weight="normal" stroke="#0a0a0a" stroke-width="0.06" >leukemic rats (n=14)</text>
<text x="315.05" y="355.6" font-size="7.5" text-anchor="middle" fill="#0a0a0a" font-family="Liberation Serif" font-weight="normal" stroke="#0a0a0a" stroke-width="0.06" >C<tspan font-size="4.5" dy="1.5">6</tspan><tspan dy="-1.5"> treated (responsive)</tspan></text>
<text x="315.05" y="364.5" font-size="7.5" text-anchor="middle" fill="#0a0a0a" font-family="Liberation Serif" font-weight="normal" stroke="#0a0a0a" stroke-width="0.06" >leukemic rats (n=5)</text>
<text x="414.95000000000005" y="364.6" font-size="7.5" text-anchor="middle" fill="#0a0a0a" font-family="Liberation Serif" font-weight="normal" stroke="#0a0a0a" stroke-width="0.06" >normal rats (n=14)</text>
<text x="52.8" y="377.8" font-size="7.5" text-anchor="middle" fill="#0a0a0a" font-family="Liberation Serif" font-weight="normal" stroke="#0a0a0a" stroke-width="0.06" >lymph node</text>
<text x="142.5" y="377.8" font-size="7.5" text-anchor="middle" fill="#0a0a0a" font-family="Liberation Serif" font-weight="normal" stroke="#0a0a0a" stroke-width="0.06" >85.4 (7.5)</text>
<text x="226.15" y="377.8" font-size="7.5" text-anchor="middle" fill="#0a0a0a" font-family="Liberation Serif" font-weight="normal" stroke="#0a0a0a" stroke-width="0.06" >86.3 (6.8)</text>
<text x="315.05" y="377.8" font-size="7.5" text-anchor="middle" fill="#0a0a0a" font-family="Liberation Serif" font-weight="normal" stroke="#0a0a0a" stroke-width="0.06" >-</text>
<text x="414.95000000000005" y="377.8" font-size="7.5" text-anchor="middle" fill="#0a0a0a" font-family="Liberation Serif" font-weight="normal" stroke="#0a0a0a" stroke-width="0.06" >-</text>
<text x="52.8" y="391.7" font-size="7.5" text-anchor="middle" fill="#0a0a0a" font-family="Liberation Serif" font-weight="normal" stroke="#0a0a0a" stroke-width="0.06" >bone marrow</text>
<text x="142.5" y="391.7" font-size="7.5" text-anchor="middle" fill="#0a0a0a" font-family="Liberation Serif" font-weight="normal" stroke="#0a0a0a" stroke-width="0.06" >88.2 (3.2)</text>
<text x="226.15" y="391.7" font-size="7.5" text-anchor="middle" fill="#0a0a0a" font-family="Liberation Serif" font-weight="normal" stroke="#0a0a0a" stroke-width="0.06" >90.9 (2.8)</text>
<text x="315.05" y="391.7" font-size="7.5" text-anchor="middle" fill="#0a0a0a" font-family="Liberation Serif" font-weight="normal" stroke="#0a0a0a" stroke-width="0.06" >4.4 (0.9) ***</text>
<text x="414.95000000000005" y="391.7" font-size="7.5" text-anchor="middle" fill="#0a0a0a" font-family="Liberation Serif" font-weight="normal" stroke="#0a0a0a" stroke-width="0.06" >5.5 (1.6)</text>
<text x="52.8" y="405.1" font-size="7.5" text-anchor="middle" fill="#0a0a0a" font-family="Liberation Serif" font-weight="normal" stroke="#0a0a0a" stroke-width="0.06" >PBMC</text>
<text x="142.5" y="405.1" font-size="7.5" text-anchor="middle" fill="#0a0a0a" font-family="Liberation Serif" font-weight="normal" stroke="#0a0a0a" stroke-width="0.06" >78.7 (10.0)</text>
<text x="226.15" y="405.1" font-size="7.5" text-anchor="middle" fill="#0a0a0a" font-family="Liberation Serif" font-weight="normal" stroke="#0a0a0a" stroke-width="0.06" >92.5 (1.2)</text>
<text x="315.05" y="405.1" font-size="7.5" text-anchor="middle" fill="#0a0a0a" font-family="Liberation Serif" font-weight="normal" stroke="#0a0a0a" stroke-width="0.06" >12.7 (3.9) ***</text>
<text x="414.95000000000005" y="405.1" font-size="7.5" text-anchor="middle" fill="#0a0a0a" font-family="Liberation Serif" font-weight="normal" stroke="#0a0a0a" stroke-width="0.06" >13.7 (5.7)</text>
<text x="52.8" y="418.5" font-size="7.5" text-anchor="middle" fill="#0a0a0a" font-family="Liberation Serif" font-weight="normal" stroke="#0a0a0a" stroke-width="0.06" >lung</text>
<text x="142.5" y="418.5" font-size="7.5" text-anchor="middle" fill="#0a0a0a" font-family="Liberation Serif" font-weight="normal" stroke="#0a0a0a" stroke-width="0.06" >83.3 (1.8)</text>
<text x="226.15" y="418.5" font-size="7.5" text-anchor="middle" fill="#0a0a0a" font-family="Liberation Serif" font-weight="normal" stroke="#0a0a0a" stroke-width="0.06" >84.3 (2.2)</text>
<text x="315.05" y="418.5" font-size="7.5" text-anchor="middle" fill="#0a0a0a" font-family="Liberation Serif" font-weight="normal" stroke="#0a0a0a" stroke-width="0.06" >27.0 (2.1) ***</text>
<text x="414.95000000000005" y="418.5" font-size="7.5" text-anchor="middle" fill="#0a0a0a" font-family="Liberation Serif" font-weight="normal" stroke="#0a0a0a" stroke-width="0.06" >28.7 (11.4)</text>
</g></svg></body></html>
